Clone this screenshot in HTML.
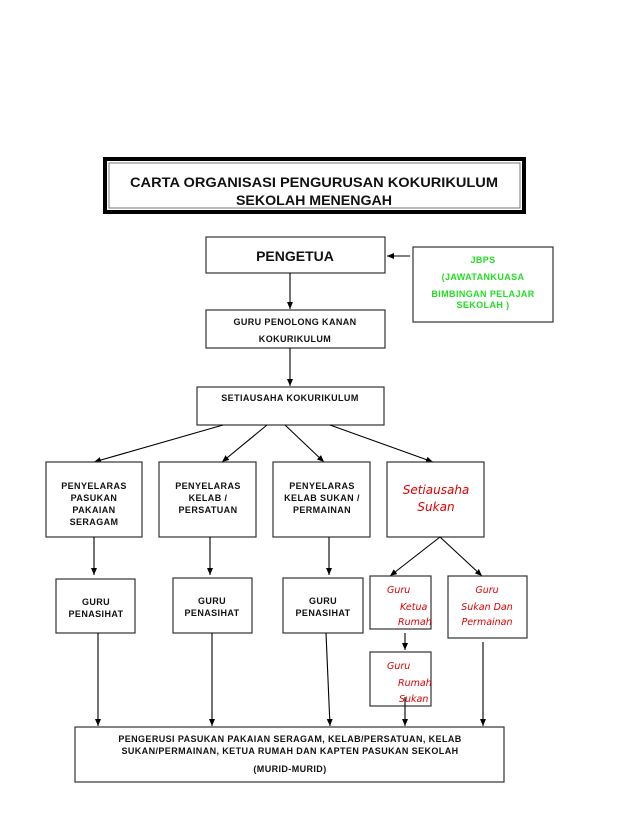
<!DOCTYPE html>
<html><head><meta charset="utf-8"><style>
html,body{margin:0;padding:0;background:#fff;}
svg{display:block;}
.b{font-family:"Liberation Sans",Arial,sans-serif;font-weight:bold;fill:#111;}
.s{letter-spacing:0.4px;}
.r{font-family:"DejaVu Sans",sans-serif;font-style:italic;fill:#e00000;}
.g{font-family:"Liberation Sans",Arial,sans-serif;font-weight:bold;fill:#22dd22;letter-spacing:0.4px;}
rect.bx{fill:#fff;stroke:#333;stroke-width:1.2;}
line{stroke:#000;stroke-width:1.1;}
</style></head><body>
<svg width="638" height="826" viewBox="0 0 638 826" xmlns="http://www.w3.org/2000/svg">
<defs><marker id="a" markerWidth="8" markerHeight="8" refX="7" refY="4" orient="auto" markerUnits="userSpaceOnUse"><path d="M0,1 L7,4 L0,7 z" fill="#000"/></marker></defs>
<rect x="105" y="159" width="419" height="53" fill="#fff" stroke="#000" stroke-width="4"/>
<rect x="109" y="163" width="411" height="45" fill="none" stroke="#777" stroke-width="1"/>
<text class="b" x="314" y="187" font-size="14.2" text-anchor="middle" textLength="368" lengthAdjust="spacingAndGlyphs">CARTA ORGANISASI PENGURUSAN KOKURIKULUM</text>
<text class="b" x="314" y="205" font-size="14.2" text-anchor="middle">SEKOLAH MENENGAH</text>
<rect class="bx" x="206" y="237" width="179" height="36"/>
<text class="b" x="295" y="261" font-size="14" text-anchor="middle">PENGETUA</text>
<rect class="bx" x="413" y="247" width="140" height="75"/>
<text class="g" x="483" y="263" font-size="9" text-anchor="middle">JBPS</text>
<text class="g" x="483" y="280" font-size="9" text-anchor="middle">(JAWATANKUASA</text>
<text class="g" x="483" y="297" font-size="9" text-anchor="middle">BIMBINGAN PELAJAR</text>
<text class="g" x="483" y="308" font-size="9" text-anchor="middle">SEKOLAH )</text>
<line x1="410" y1="256" x2="387" y2="256" marker-end="url(#a)"/>
<line x1="290" y1="273" x2="290" y2="309" marker-end="url(#a)"/>
<rect class="bx" x="206" y="310" width="179" height="38"/>
<text class="b s" x="295" y="325" font-size="9" text-anchor="middle">GURU PENOLONG KANAN</text>
<text class="b s" x="295" y="342" font-size="9" text-anchor="middle">KOKURIKULUM</text>
<line x1="290" y1="348" x2="290" y2="386" marker-end="url(#a)"/>
<rect class="bx" x="197" y="387" width="187" height="38"/>
<text class="b s" x="290" y="401" font-size="9" text-anchor="middle">SETIAUSAHA KOKURIKULUM</text>
<line x1="223" y1="425" x2="94" y2="462" marker-end="url(#a)"/>
<line x1="267" y1="425" x2="222" y2="462" marker-end="url(#a)"/>
<line x1="285" y1="425" x2="324" y2="462" marker-end="url(#a)"/>
<line x1="330" y1="425" x2="433" y2="462" marker-end="url(#a)"/>
<rect class="bx" x="46" y="462" width="96" height="75"/>
<g class="b s" font-size="9" text-anchor="middle"><text x="94" y="489">PENYELARAS</text><text x="94" y="501">PASUKAN</text><text x="94" y="513">PAKAIAN</text><text x="94" y="525">SERAGAM</text></g>
<rect class="bx" x="159" y="462" width="97" height="75"/>
<g class="b s" font-size="9" text-anchor="middle"><text x="208" y="489">PENYELARAS</text><text x="208" y="501">KELAB /</text><text x="208" y="513">PERSATUAN</text></g>
<rect class="bx" x="273" y="462" width="97" height="75"/>
<g class="b s" font-size="9" text-anchor="middle"><text x="322" y="489">PENYELARAS</text><text x="322" y="501">KELAB SUKAN /</text><text x="322" y="513">PERMAINAN</text></g>
<rect class="bx" x="387" y="462" width="97" height="75"/>
<g class="r" font-size="12" text-anchor="middle"><text x="436" y="494">Setiausaha</text><text x="436" y="511">Sukan</text></g>
<line x1="94" y1="537" x2="94" y2="575" marker-end="url(#a)"/>
<line x1="210" y1="537" x2="210" y2="575" marker-end="url(#a)"/>
<line x1="329" y1="537" x2="329" y2="575" marker-end="url(#a)"/>
<line x1="440" y1="537" x2="390" y2="576" marker-end="url(#a)"/>
<line x1="440" y1="537" x2="482" y2="576" marker-end="url(#a)"/>
<rect class="bx" x="56" y="579" width="79" height="54"/>
<g class="b s" font-size="9" text-anchor="middle"><text x="96" y="605">GURU</text><text x="96" y="617">PENASIHAT</text></g>
<rect class="bx" x="173" y="578" width="79" height="55"/>
<g class="b s" font-size="9" text-anchor="middle"><text x="212" y="604">GURU</text><text x="212" y="616">PENASIHAT</text></g>
<rect class="bx" x="283" y="578" width="80" height="55"/>
<g class="b s" font-size="9" text-anchor="middle"><text x="323" y="604">GURU</text><text x="323" y="616">PENASIHAT</text></g>
<rect class="bx" x="370" y="576" width="61" height="53"/>
<g class="r" font-size="9.5"><text x="387" y="593">Guru</text><text x="400" y="610">Ketua</text><text x="398" y="625">Rumah</text></g>
<rect class="bx" x="448" y="576" width="79" height="62"/>
<g class="r" font-size="9.5" text-anchor="middle"><text x="487" y="593">Guru</text><text x="487" y="610">Sukan Dan</text><text x="487" y="625">Permainan</text></g>
<line x1="405" y1="633" x2="405" y2="650" marker-end="url(#a)"/>
<rect class="bx" x="370" y="652" width="61" height="54"/>
<g class="r" font-size="9.5"><text x="387" y="669">Guru</text><text x="398" y="686">Rumah</text><text x="399" y="702">Sukan</text></g>
<line x1="98" y1="633" x2="98" y2="726" marker-end="url(#a)"/>
<line x1="212" y1="633" x2="212" y2="726" marker-end="url(#a)"/>
<line x1="326" y1="633" x2="330" y2="726" marker-end="url(#a)"/>
<line x1="405" y1="697" x2="405" y2="726" marker-end="url(#a)"/>
<line x1="483" y1="642" x2="483" y2="726" marker-end="url(#a)"/>
<rect class="bx" x="75" y="727" width="429" height="55"/>
<g class="b s" font-size="9" text-anchor="middle"><text x="290" y="742">PENGERUSI PASUKAN PAKAIAN SERAGAM, KELAB/PERSATUAN, KELAB</text><text x="290" y="754">SUKAN/PERMAINAN, KETUA RUMAH DAN KAPTEN PASUKAN SEKOLAH</text><text x="290" y="772">(MURID-MURID)</text></g>
</svg>
</body></html>
